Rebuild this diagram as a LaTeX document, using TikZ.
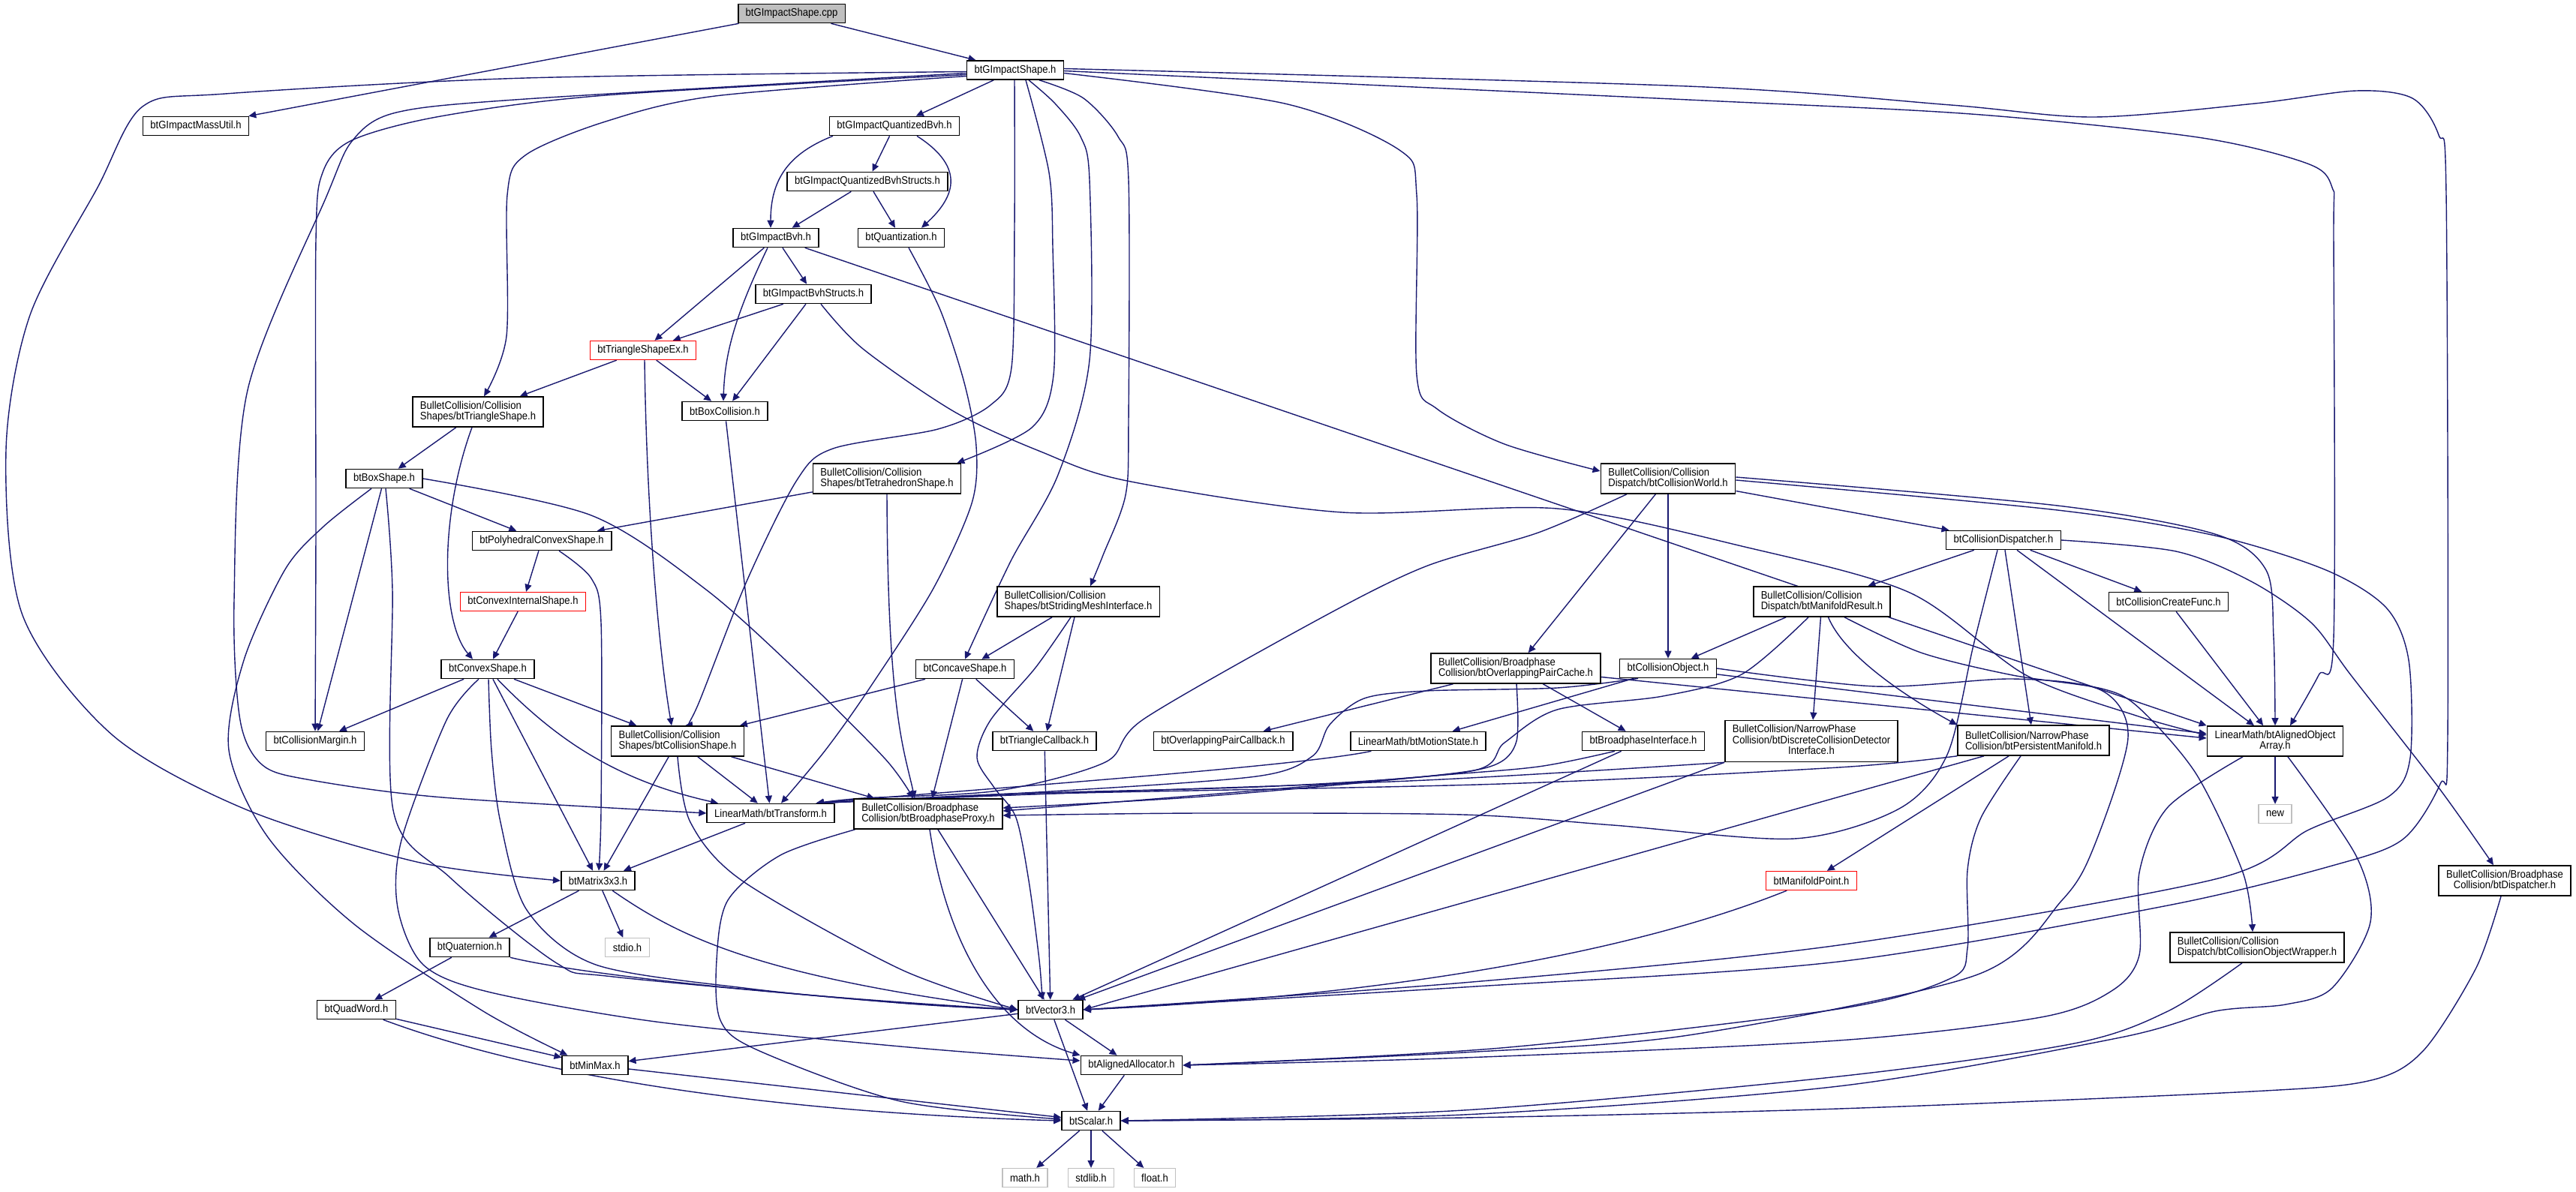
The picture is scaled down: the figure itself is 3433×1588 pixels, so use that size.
\documentclass[tikz,border=0pt]{standalone}
\usepackage{fontspec}
\newfontfamily\graphfont{Liberation Sans}[FakeStretch=0.9]
\usepackage{tikz}
\usetikzlibrary{arrows.meta}
\pgfdeclarelayer{edges}
\pgfsetlayers{edges,main}
\definecolor{edgeblue}{HTML}{191970}
\definecolor{rootgray}{HTML}{BFBFBF}
\definecolor{sysgray}{HTML}{C0C0C0}
\tikzset{
  filebox/.style={draw=black, line width=1.6pt, fill=white, inner xsep=10pt, inner ysep=2pt, minimum height=25pt, align=left, font=\graphfont\fontsize{14.5}{14}\selectfont},
  twoline/.style={filebox, minimum height=40pt},
  threeline/.style={filebox, minimum height=55pt},
  rootbox/.style={filebox, fill=rootgray},
  redbox/.style={filebox, draw=red, line width=1.3pt},
  sysbox/.style={filebox, draw=sysgray, line width=1.3pt},
  incl/.style={draw=edgeblue, line width=1.4pt, -{Triangle[length=10pt,width=9pt]}},
}

\begin{document}
\begin{tikzpicture}[x=1pt, y=-1pt]
  \useasboundingbox (0,0) rectangle (3433,1588);

  \node[rootbox] (Cpp) at (1055,18) {btGImpactShape.cpp};
  \node[filebox] (Shape) at (1353,93.5) {btGImpactShape.h};
  \node[filebox] (MassUtil) at (261,168) {btGImpactMassUtil.h};
  \node[filebox] (QBvh) at (1192,168) {btGImpactQuantizedBvh.h};
  \node[filebox] (QBvhStr) at (1156,242) {btGImpactQuantizedBvhStructs.h};
  \node[filebox] (Quant) at (1201,317) {btQuantization.h};
  \node[filebox] (Bvh) at (1034,317) {btGImpactBvh.h};
  \node[filebox] (BvhStr) at (1084,392) {btGImpactBvhStructs.h};
  \node[redbox] (TriEx) at (857,467) {btTriangleShapeEx.h};
  \node[filebox] (BoxColl) at (966,548) {btBoxCollision.h};
  \node[twoline] (TriShape) at (637,549) {BulletCollision/Collision\\Shapes/btTriangleShape.h};
  \node[filebox] (BoxShape) at (512,638) {btBoxShape.h};
  \node[twoline] (Tetra) at (1182,638) {BulletCollision/Collision\\Shapes/btTetrahedronShape.h};
  \node[filebox] (Poly) at (722,721) {btPolyhedralConvexShape.h};
  \node[redbox] (ConvInt) at (697,802) {btConvexInternalShape.h};
  \node[filebox] (Convex) at (650,892) {btConvexShape.h};
  \node[filebox] (Margin) at (420,988) {btCollisionMargin.h};
  \node[twoline] (CollShape) at (903,988) {BulletCollision/Collision\\Shapes/btCollisionShape.h};
  \node[filebox] (Transform) at (1027,1084) {LinearMath/btTransform.h};
  \node[twoline] (Proxy) at (1237,1085) {BulletCollision/Broadphase\\Collision/btBroadphaseProxy.h};
  \node[twoline] (Striding) at (1437,802) {BulletCollision/Collision\\Shapes/btStridingMeshInterface.h};
  \node[filebox] (Concave) at (1286,892) {btConcaveShape.h};
  \node[filebox] (TriCb) at (1392,988) {btTriangleCallback.h};
  \node[filebox] (PairCb) at (1630,988) {btOverlappingPairCallback.h};
  \node[filebox] (Motion) at (1890,988) {LinearMath/btMotionState.h};
  \node[twoline] (PairCache) at (2020,891) {BulletCollision/Broadphase\\Collision/btOverlappingPairCache.h};
  \node[twoline] (World) at (2223,638) {BulletCollision/Collision\\Dispatch/btCollisionWorld.h};
  \node[filebox] (Disp) at (2670,720) {btCollisionDispatcher.h};
  \node[twoline] (ManRes) at (2428,802) {BulletCollision/Collision\\Dispatch/btManifoldResult.h};
  \node[filebox] (CreateFunc) at (2890,802) {btCollisionCreateFunc.h};
  \node[filebox] (CollObj) at (2223,891) {btCollisionObject.h};
  \node[filebox] (BpIface) at (2190,988) {btBroadphaseInterface.h};
  \node[threeline] (Discrete) at (2414,988) {\begin{tabular}{@{}l@{}}BulletCollision/NarrowPhase\\Collision/btDiscreteCollisionDetector\\\multicolumn{1}{@{}c@{}}{Interface.h}\end{tabular}};
  \node[twoline] (Persist) at (2710,987) {BulletCollision/NarrowPhase\\Collision/btPersistentManifold.h};
  \node[twoline, align=center] (AOA) at (3032,988) {LinearMath/btAlignedObject\\Array.h};
  \node[sysbox] (New) at (3032,1085) {new};
  \node[filebox] (Matrix) at (797,1174) {btMatrix3x3.h};
  \node[sysbox] (Stdio) at (836,1263) {stdio.h};
  \node[filebox] (Quat) at (626,1263) {btQuaternion.h};
  \node[filebox] (QuadWord) at (475,1346) {btQuadWord.h};
  \node[filebox] (MinMax) at (793,1420) {btMinMax.h};
  \node[filebox] (Vector) at (1400,1346) {btVector3.h};
  \node[filebox] (Alloc) at (1508,1420) {btAlignedAllocator.h};
  \node[filebox] (Scalar) at (1454,1494) {btScalar.h};
  \node[sysbox] (Math) at (1366,1570) {math.h};
  \node[sysbox] (Stdlib) at (1454,1570) {stdlib.h};
  \node[sysbox] (Float) at (1539,1570) {float.h};
  \node[redbox] (ManPoint) at (2414,1174) {btManifoldPoint.h};
  \node[twoline] (Wrapper) at (3008,1263) {BulletCollision/Collision\\Dispatch/btCollisionObjectWrapper.h};
  \node[twoline, align=center] (BpDisp) at (3338,1174) {BulletCollision/Broadphase\\Collision/btDispatcher.h};

  \begin{pgfonlayer}{edges}
  \draw[incl] (Cpp) -- (MassUtil);
  \draw[incl] (Cpp) -- (Shape);
  \draw[incl] (Shape) -- (QBvh);
  \draw[incl] plot[smooth] coordinates {([yshift=-2pt]Shape.west) (700,104) (300,125) (190,142) (130,250) (40,420) (8,600) (30,820) (150,980) (330,1080) (560,1150) (Matrix.west)};
  \draw[incl] plot[smooth] coordinates {([yshift=-4pt]Shape.west) (700,132) (528,150) (470,187) (435,262) (330,520) (312,800) (320,960) (350,1020) (415,1040) (590,1063) (Transform.west)};
  \draw[incl] plot[smooth] coordinates {([yshift=-6pt]Shape.west) (807,127) (587,155) (469,187) (430,230) (421,320) (421,700) (Margin.north)};
  \draw[incl] plot[smooth] coordinates {([yshift=-8pt]Shape.west) (953,128) (807,162) (700,207) (676,260) (675,448) ([xshift=8pt]TriShape.north)};
  \draw[incl] plot[smooth] coordinates {([xshift=-1pt]Shape.south) (1352,300) (1348,490) (1320,540) (1250,572) (1110,598) (1062,640) (995,775) (930,940) ([xshift=10pt]CollShape.north)};
  \draw[incl] plot[smooth] coordinates {([xshift=14pt]Shape.south) (1398,230) (1403,330) (1404,500) (1375,570) ([xshift=-6pt]Tetra.north east)};
  \draw[incl] plot[smooth] coordinates {([xshift=18pt]Shape.south) (1406,138) (1440,182) (1452,240) (1452,480) (1410,633) (1347,748) (Concave.north)};
  \draw[incl] plot[smooth] coordinates {([xshift=32pt]Shape.south) (1444,131) (1490,182) (1504,240) (1504,560) (1500,660) (1470,740) ([xshift=16pt]Striding.north)};
  \draw[incl] plot[smooth] coordinates {([yshift=-4pt]Shape.east) (1712,138) (1865,200) (1888,260) (1888,500) (1915,545) (2005,592) ([yshift=10pt]World.west)};
  \draw[incl] plot[smooth] coordinates {([yshift=-1pt]Shape.east) (2250,133) (2627,152) (2929,183) (3075,218) (3108,250) (3110,320) (3110,850) (3090,900) ([xshift=20pt]AOA.north)};
  \draw[incl] plot[smooth] coordinates {([yshift=2pt]Shape.east) (2250,115) (2600,140) (2790,156) (3005,138) (3140,121) (3215,131) (3250,180) (3260,260) (3262,980) (3252,1045) (3202,1119) (3108,1154) (2889,1207) (2450,1282) (1950,1316) (Vector.east)};

  \draw[incl] (QBvh) -- (QBvhStr);
  \draw[incl] ([xshift=-82pt]QBvh.south) .. controls (1050,205) and (1027,240) .. ([xshift=-7pt]Bvh.north);
  \draw[incl] ([xshift=30pt]QBvh.south) .. controls (1290,225) and (1270,265) .. ([xshift=27pt]Quant.north);
  \draw[incl] (QBvhStr) -- (Bvh);
  \draw[incl] (QBvhStr) -- (Quant);
  \draw[incl] plot[smooth] coordinates {([xshift=10pt]Quant.south) (1253,413) (1285,510) (1301,595) (1295,671) (1243,786) (1157,920) (1100,1000) ([xshift=14pt]Transform.north)};

  \draw[incl] (Bvh) -- (TriEx);
  \draw[incl] ([xshift=-11pt]Bvh.south) .. controls (980,420) and (966,470) .. ([xshift=-2pt]BoxColl.north);
  \draw[incl] (Bvh) -- (BvhStr);
  \draw[incl] (Bvh) -- (AOA.north west);
  \draw[incl] (BvhStr) -- (TriEx);
  \draw[incl] (BvhStr) -- (BoxColl);
  \draw[incl] plot[smooth] coordinates {([xshift=10pt]BvhStr.south) (1150,465) (1272,549) (1387,602) (1502,641) (1789,683) (2075,678) (2321,728) (2545,790) (2700,900) (2850,955) ([yshift=8pt]AOA.west)};

  \draw[incl] (TriEx) -- (TriShape);
  \draw[incl] (TriEx) -- (BoxColl);
  \draw[incl] ([xshift=2pt]TriEx.south) .. controls (862,700) and (880,880) .. ([xshift=-8pt]CollShape.north);
  \draw[incl] (BoxColl) -- (Transform);
  \draw[incl] (TriShape) -- (BoxShape);
  \draw[incl] ([xshift=-8pt]TriShape.south) .. controls (585,690) and (588,830) .. ([xshift=-20pt]Convex.north);

  \draw[incl] (BoxShape) -- (Poly);
  \draw[incl] (BoxShape) -- (Margin);
  \draw[incl] plot[smooth] coordinates {([xshift=-17pt]BoxShape.south) (431,702) (380,759) (325,880) (305,1000) (357,1116) (472,1232) (644,1348) ([xshift=8pt]MinMax.north west)};
  \draw[incl] plot[smooth] coordinates {([xshift=2pt]BoxShape.south) (523,786) (524,1080) (600,1170) (742,1284) (817,1302) (1200,1337) (Vector.west)};
  \draw[incl] plot[smooth] coordinates {(BoxShape.east) (788,687) (941,786) (1069,901) (1180,1012) ([xshift=-20pt]Proxy.north)};
  \draw[incl] (Tetra) -- (Poly);
  \draw[incl] (Tetra.south) .. controls (1183,950) and (1205,1000) .. ([xshift=-18pt]Proxy.north);
  \draw[incl] (Poly) -- (ConvInt);
  \draw[incl] plot[smooth] coordinates {([xshift=23pt]Poly.south) (788,771) (801,830) (801,1080) ([xshift=1pt]Matrix.north)};
  \draw[incl] (ConvInt) -- (Convex);

  \draw[incl] (Convex) -- (Margin);
  \draw[incl] (Convex) -- (CollShape);
  \draw[incl] (Convex) .. controls (740,985) and (820,1040) .. ([xshift=-70pt]Transform.north);
  \draw[incl] (Convex) -- (Matrix);
  \draw[incl] plot[smooth] coordinates {([xshift=1pt]Convex.south) (655,1000) (667,1096) (702,1213) (794,1286) (1000,1318) (1200,1337) (Vector.west)};
  \draw[incl] plot[smooth] coordinates {([xshift=-12pt]Convex.south) (595,960) (535,1120) (530,1210) (564,1286) (650,1322) (874,1362) (1200,1395) ([yshift=6pt]Alloc.west)};
  \draw[incl] (CollShape) -- (Matrix);
  \draw[incl] plot[smooth] coordinates {(CollShape.south) (920,1096) (989,1174) (1200,1292) (Vector.west)};
  \draw[incl] (CollShape) -- (Transform);
  \draw[incl] (CollShape) -- (Proxy);
  \draw[incl] (Transform) -- (Matrix);

  \draw[incl] (Matrix) -- (Quat);
  \draw[incl] (Matrix) -- (Stdio);
  \draw[incl] (Matrix) .. controls (900,1245) and (1000,1300) .. (Vector.west);
  \draw[incl] (Quat) -- (QuadWord);
  \draw[incl] (Quat) .. controls (760,1296) and (1000,1325) .. (Vector.west);
  \draw[incl] (QuadWord) -- (MinMax);
  \draw[incl] (QuadWord) .. controls (700,1430) and (1000,1482) .. (Scalar.west);
  \draw[incl] (MinMax) -- (Scalar);
  \draw[incl] (Vector) -- (Scalar);
  \draw[incl] (Vector) -- (Alloc);
  \draw[incl] (Vector) -- (MinMax);
  \draw[incl] (Alloc) -- (Scalar);
  \draw[incl] (Scalar) -- (Math);
  \draw[incl] (Scalar) -- (Stdlib);
  \draw[incl] (Scalar) -- (Float);

  \draw[incl] (Proxy) -- (Vector);
  \draw[incl] ([xshift=2pt]Proxy.south) .. controls (1262,1260) and (1330,1375) .. (Alloc.north west);
  \draw[incl] plot[smooth] coordinates {([xshift=2pt]Proxy.south west) (1040,1140) (970,1200) (955,1280) (960,1360) (1010,1400) (1200,1468) ([yshift=2pt]Scalar.west)};
  \draw[incl] (Striding) -- (Concave);
  \draw[incl] (Striding) -- (TriCb);
  \draw[incl] plot[smooth] coordinates {([xshift=-10pt]Striding.south) (1380,890) (1320,960) (1302,1010) (1325,1050) (1354,1090) (1371,1174) (1385,1280) ([xshift=-11pt]Vector.north)};
  \draw[incl] (Concave) -- (CollShape);
  \draw[incl] (Concave) -- (TriCb);
  \draw[incl] (Concave) -- (Proxy);
  \draw[incl] (TriCb) -- (Vector);

  \draw[incl] (World) -- (PairCache);
  \draw[incl] (World) -- (CollObj);
  \draw[incl] (World) -- (Disp);
  \draw[incl] plot[smooth] coordinates {([xshift=-55pt]World.south) (2050,710) (1900,755) (1760,824) (1525,958) (1473,1016) (1330,1054) (1150,1064) ([xshift=-25pt]Transform.north east)};
  \draw[incl] plot[smooth] coordinates {([yshift=2pt]World.east) (2742,674) (2952,712) (3020,760) (3030,850) (AOA.north)};
  \draw[incl] plot[smooth] coordinates {([yshift=-2pt]World.east) (2742,680) (2952,714) (3100,760) (3180,810) (3210,880) (3212,1010) (3183,1062) (3077,1106) (2952,1172) (2450,1260) (1950,1310) (Vector.east)};

  \draw[incl] (Disp) -- (ManRes);
  \draw[incl] (Disp) -- (Persist);
  \draw[incl] (Disp) -- (CreateFunc);
  \draw[incl] (Disp) -- (AOA);
  \draw[incl] plot[smooth] coordinates {([xshift=-8pt]Disp.south) (2630,860) (2595,1006) (2531,1078) (2391,1118) (2150,1100) (1950,1086) (1600,1084) ([yshift=-2pt]Proxy.east)};
  \draw[incl] plot[smooth] coordinates {(Disp.east) (2900,735) (3000,775) (3080,830) (3133,900) (3250,1050) ([xshift=-15pt]BpDisp.north)};
  \draw[incl] (ManRes) -- (CollObj);
  \draw[incl] (ManRes) -- (Discrete);
  \draw[incl] (ManRes) .. controls (2460,880) and (2560,940) .. (Persist.north west);
  \draw[incl] plot[smooth] coordinates {([xshift=-18pt]ManRes.south) (2321,899) (2216,928) (2075,946) (2005,990) (1960,1028) (1700,1048) (1350,1058) ([xshift=-25pt]Transform.north east)};
  \draw[incl] plot[smooth] coordinates {([xshift=30pt]ManRes.south) (2560,870) (2682,900) (2801,918) (2851,944) (2927,1032) (2989,1163) ([xshift=-6pt]Wrapper.north)};
  \draw[incl] (CreateFunc) -- (AOA);

  \draw[incl] (CollObj) -- (Motion);
  \draw[incl] plot[smooth] coordinates {([xshift=-40pt]CollObj.south) (2075,917) (1900,921) (1818,931) (1772,966) (1749,1008) (1674,1035) (1400,1055) ([xshift=-25pt]Transform.north east)};
  \draw[incl] (CollObj) -- ([yshift=10pt]AOA.west);
  \draw[incl] plot[smooth] coordinates {(CollObj.east) (2500,915) (2682,905) (2800,920) (2836,983) (2790,1130) (2748,1200) (2633,1300) (2250,1380) (1950,1403) (Alloc.east)};
  \draw[incl] (PairCache) -- (PairCb);
  \draw[incl] (PairCache) -- (BpIface);
  \draw[incl] (PairCache) -- ([yshift=4pt]AOA.west);
  \draw[incl] plot[smooth] coordinates {([xshift=1pt]PairCache.south) (2021,988) (1991,1020) (1900,1035) (1600,1062) ([yshift=8pt]Proxy.east)};
  \draw[incl] (Motion) .. controls (1730,1022) and (1300,1052) .. ([xshift=-25pt]Transform.north east);
  \draw[incl] plot[smooth] coordinates {([xshift=-38pt]BpIface.south) (2050,1022) (1900,1035) (1600,1060) ([yshift=4pt]Proxy.east)};
  \draw[incl] (BpIface) -- (Vector);
  \draw[incl] plot[smooth] coordinates {(Discrete.south west) (1900,1040) (1400,1058) ([xshift=-25pt]Transform.north east)};
  \draw[incl] (Discrete.south west) -- (Vector);

  \draw[incl] plot[smooth] coordinates {(Persist.south west) (2450,1023) (2000,1045) (1400,1058) ([xshift=-25pt]Transform.north east)};
  \draw[incl] ([xshift=-66pt]Persist.south) -- (Vector.east);
  \draw[incl] (Persist) -- (ManPoint);
  \draw[incl] plot[smooth] coordinates {([xshift=-17pt]Persist.south) (2640,1090) (2622,1160) (2622,1264) (2600,1304) (2450,1345) (2000,1397) (Alloc.east)};
  \draw[incl] (AOA) -- (New);
  \draw[incl] plot[smooth] coordinates {([xshift=-43pt]AOA.south) (2889,1076) (2851,1163) (2851,1273) (2814,1321) (2720,1356) (2450,1387) (1950,1410) (Alloc.east)};
  \draw[incl] plot[smooth] coordinates {([xshift=17pt]AOA.south) (3140,1141) (3159,1229) (3108,1317) (3046,1339) (2952,1348) (2826,1383) (2450,1448) (1950,1486) (Scalar.east)};
  \draw[incl] (ManPoint) .. controls (2150,1280) and (1800,1330) .. (Vector.east);
  \draw[incl] plot[smooth] coordinates {([xshift=-20pt]Wrapper.south) (2889,1348) (2764,1391) (2450,1435) (1950,1480) (Scalar.east)};
  \draw[incl] plot[smooth] coordinates {([xshift=-5pt]BpDisp.south) (3300,1290) (3230,1400) (3160,1440) (3000,1455) (2450,1478) (1950,1490) (Scalar.east)};
  \end{pgfonlayer}
\end{tikzpicture}
\end{document}
